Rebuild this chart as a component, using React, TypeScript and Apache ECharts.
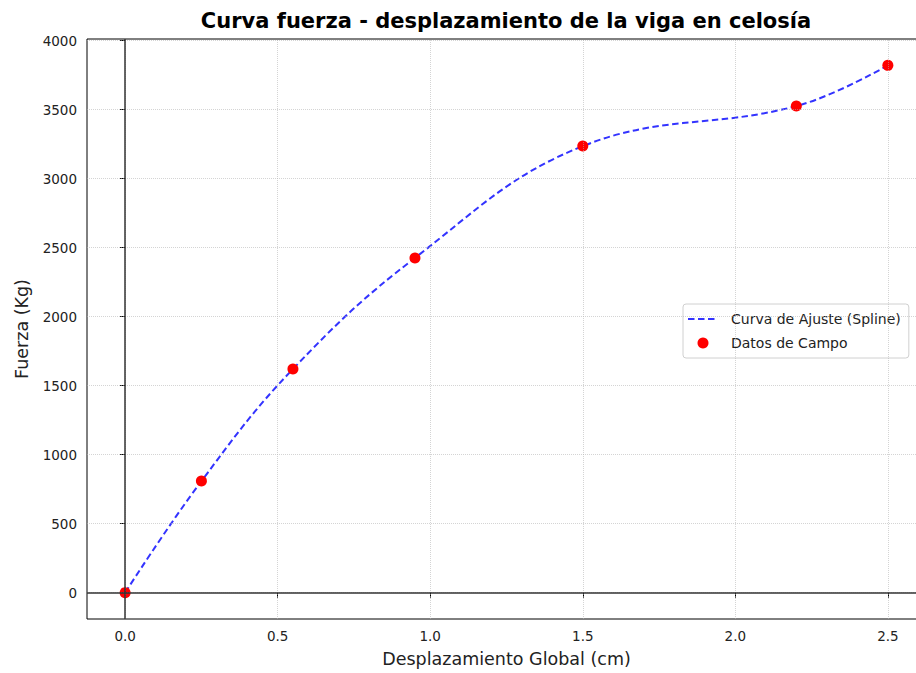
import React, { useEffect, useRef } from "react";
import * as echarts from "echarts";

const titleText = "Curva fuerza - desplazamiento de la viga en celosía";
const xName = "Desplazamiento Global (cm)";
const yName = "Fuerza (Kg)";
const seriesCurveName = "Curva de Ajuste (Spline)";
const seriesPointsName = "Datos de Campo";

const displacement = [0, 0.25, 0.55, 0.95, 1.5, 2.2, 2.5];
const force = [0, 808, 1620, 2425, 3235, 3525, 3820];

const xTicks = [0, 0.5, 1.0, 1.5, 2.0, 2.5];
const yTicks = [0, 500, 1000, 1500, 2000, 2500, 3000, 3500, 4000];

const FONT = "DejaVu Sans";

export default function App() {
  const ref = useRef<HTMLDivElement>(null);
  useEffect(() => {
    if (!ref.current) return;
    const chart = echarts.init(ref.current, undefined, { renderer: "svg" });
    const pts = displacement.map((x, i) => [x, force[i]]);
    const gridStyle = { color: "rgba(176,176,176,0.55)", type: "dotted" as const, width: 1 };
    const gridLines = [
      ...xTicks.map((v) => ({ xAxis: v, lineStyle: gridStyle })),
      ...yTicks.map((v) => ({ yAxis: v, lineStyle: gridStyle })),
    ];
    const zeroStyle = { color: "#333", type: "solid" as const, width: 1.5 };
    chart.setOption({
      animation: false,
      backgroundColor: "#fff",
      textStyle: { fontFamily: FONT },
      grid: {
        left: 87,
        top: 39,
        right: 0,
        bottom: 51,
        show: true,
        borderColor: "#000",
        borderWidth: 1,
        backgroundColor: "transparent",
      },
      graphic: [
        {
          type: "text",
          x: 506,
          y: 21,
          style: {
            text: titleText,
            fontFamily: FONT,
            fontWeight: "bold",
            fontSize: 21,
            fill: "#000",
            align: "center",
            verticalAlign: "middle",
          },
        },
      ],
      legend: {
        left: 683,
        top: 304,
        orient: "vertical",
        backgroundColor: "rgba(255,255,255,0.8)",
        borderColor: "#d0d0d0",
        borderWidth: 1,
        borderRadius: 3,
        padding: [8, 8, 8, 4],
        itemWidth: 30,
        itemHeight: 11,
        itemGap: 10,
        textStyle: { fontFamily: FONT, fontSize: 14, color: "#222", padding: [0, 0, 0, 8] },
        data: [
          { name: seriesCurveName, itemStyle: { opacity: 0 } },
          { name: seriesPointsName },
        ],
      },
      xAxis: {
        type: "value",
        min: -0.125,
        max: 2.625,
        name: xName,
        nameLocation: "middle",
        nameGap: 31,
        nameTextStyle: { fontFamily: FONT, fontSize: 17.5, color: "#222" },
        axisLine: { show: false },
        axisTick: { show: true, length: 5, lineStyle: { color: "#000" }, customValues: xTicks },
        axisLabel: {
          fontFamily: FONT,
          fontSize: 13.5,
          color: "#222",
          margin: 10,
          customValues: xTicks,
          formatter: (v: number) => v.toFixed(1),
        },
        splitLine: { show: false },
      },
      yAxis: {
        type: "value",
        min: -191,
        max: 4011,
        name: yName,
        nameLocation: "middle",
        nameGap: 56,
        nameTextStyle: { fontFamily: FONT, fontSize: 17.5, color: "#222" },
        axisLine: { show: false },
        axisTick: { show: true, length: 5, lineStyle: { color: "#000" }, customValues: yTicks },
        axisLabel: {
          fontFamily: FONT,
          fontSize: 13.5,
          color: "#222",
          margin: 10,
          customValues: yTicks,
          formatter: (v: number) => String(Math.round(v)),
        },
        splitLine: { show: false },
      },
      series: [
        {
          name: "grid",
          type: "line",
          data: [],
          silent: true,
          z: 1,
          markLine: {
            silent: true,
            symbol: "none",
            label: { show: false },
            animation: false,
            data: [
              ...gridLines,
              { xAxis: 0, lineStyle: zeroStyle },
              { yAxis: 0, lineStyle: zeroStyle },
            ],
          },
        },
        {
          name: seriesCurveName,
          type: "line",
          data: pts,
          smooth: 0.4,
          symbol: "none",
          z: 3,
          lineStyle: { color: "rgba(0,0,255,0.8)", width: 2, type: [6.5, 3.5] },
          itemStyle: { color: "rgba(0,0,255,0.8)" },
        },
        {
          name: seriesPointsName,
          type: "scatter",
          data: pts,
          symbol: "circle",
          symbolSize: 11,
          z: 4,
          itemStyle: { color: "#ff0000", opacity: 1 },
        },
      ],
    });
    return () => chart.dispose();
  }, []);
  return (
    <div
      style={{
        position: "fixed",
        left: 0,
        top: 0,
        width: 916,
        height: 673,
        overflow: "hidden",
        background: "#fff",
      }}
    >
      <div ref={ref} style={{ width: 926, height: 673 }} />
    </div>
  );
}
